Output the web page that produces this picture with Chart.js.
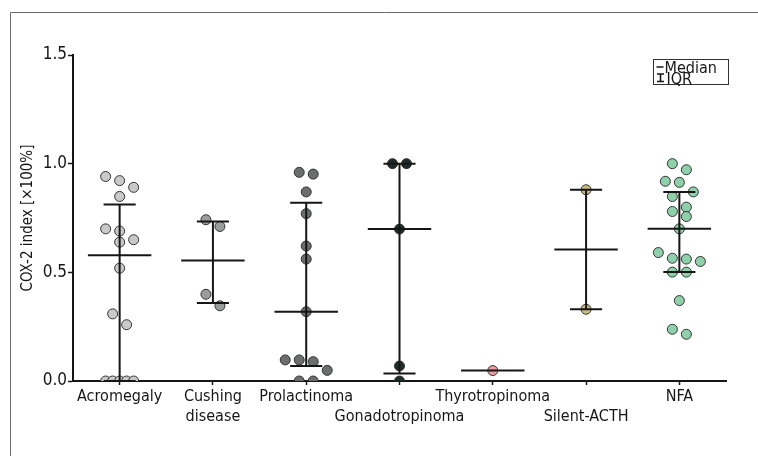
<!DOCTYPE html>
<html><head><meta charset="utf-8">
<script src="https://cdn.jsdelivr.net/npm/chart.js@4.4.1/dist/chart.umd.min.js"></script>
<style>html,body{margin:0;padding:0;background:#fff;}#wrap{width:758px;height:456px;position:relative;}</style>
</head><body><div id="wrap"><canvas id="c" width="758" height="456"></canvas></div>
<script>
// ---- data ----
const categories = ["Acromegaly", ["Cushing", "disease"], "Prolactinoma", ["", "Gonadotropinoma"], "Thyrotropinoma", ["", "Silent-ACTH"], "NFA"];
const acromegaly = [0.941, 0.922, 0.891, 0.849, 0.700, 0.690, 0.650, 0.639, 0.519, 0.309, 0.259, 0, 0, 0, 0, 0];
const cushingDisease = [0.742, 0.711, 0.399, 0.346];
const prolactinoma = [0.960, 0.952, 0.870, 0.770, 0.621, 0.561, 0.319, 0.097, 0.097, 0.089, 0.049, 0, 0];
const gonadotropinoma = [1.0, 1.0, 0.699, 0.069, 0];
const thyrotropinoma = [0.048];
const silentACTH = [0.880, 0.330];
const nfa = [1.0, 0.972, 0.919, 0.914, 0.870, 0.849, 0.800, 0.780, 0.757, 0.700, 0.591, 0.565, 0.561, 0.550, 0.501, 0.501, 0.370, 0.238, 0.215];
const yTicks = [0, 0.5, 1.0, 1.5];
const legendLabels = ["Median", "IQR"];
const yTitle = "COX-2 index [×100%]";

const groups = [acromegaly, cushingDisease, prolactinoma, gonadotropinoma, thyrotropinoma, silentACTH, nfa];
const fills = ["#c9c9c9", "#9b9c9c", "#6c6e6e", "#1f2a2a", "#ec9a9e", "#c9bb7e", "#8ed0a9"];
const FONT = "'Liberation Sans Narrow', 'DejaVu Sans Condensed', 'Roboto Condensed', sans-serif";
const INK = "#161616";

// Prism-style quantile
function quantile(sorted, p) {
  const n = sorted.length;
  const pos = (n + 1) * p;
  if (pos <= 1) return sorted[0];
  if (pos >= n) return sorted[n - 1];
  const lo = Math.floor(pos), f = pos - lo;
  return sorted[lo - 1] + f * (sorted[lo] - sorted[lo - 1]);
}
const stats = groups.map(g => {
  const s = [...g].sort((a, b) => a - b);
  return { med: quantile(s, 0.5), q1: s.length > 1 ? quantile(s, 0.25) : null, q3: s.length > 1 ? quantile(s, 0.75) : null };
});

const whiskerPlugin = {
  id: 'whiskers',
  afterDatasetsDraw(chart) {
    const { ctx, scales: { x, y } } = chart;
    const cat = x.getPixelForValue(1) - x.getPixelForValue(0);
    ctx.save();
    ctx.strokeStyle = INK; ctx.lineWidth = 2; ctx.lineCap = 'butt';
    stats.forEach((st, i) => {
      const xp = x.getPixelForValue(i);
      const mh = 0.34 * cat, ch = 0.172 * cat;
      if (st.q1 !== null) {
        const y1 = y.getPixelForValue(st.q1), y3 = y.getPixelForValue(st.q3);
        ctx.beginPath();
        ctx.moveTo(xp, y1); ctx.lineTo(xp, y3);
        ctx.moveTo(xp - ch, y1); ctx.lineTo(xp + ch, y1);
        ctx.moveTo(xp - ch, y3); ctx.lineTo(xp + ch, y3);
        ctx.stroke();
      }
      const ym = y.getPixelForValue(st.med);
      ctx.beginPath(); ctx.moveTo(xp - mh, ym); ctx.lineTo(xp + mh, ym); ctx.stroke();
    });
    ctx.restore();
  }
};

const framePlugin = {
  id: 'frame',
  beforeDraw(chart) {
    const ctx = chart.ctx;
    ctx.save();
    ctx.strokeStyle = '#6a6a6a'; ctx.lineWidth = 1;
    ctx.beginPath();
    ctx.moveTo(10.5, 456); ctx.lineTo(10.5, 12.5); ctx.lineTo(758, 12.5);
    ctx.stroke();
    ctx.restore();
  },
  afterDraw(chart) {
    const ctx = chart.ctx;
    const ca = chart.chartArea;
    const bx = ca.right - 72.5, by = 59.5, bw = 75, bh = 25;
    ctx.save();
    ctx.strokeStyle = '#333'; ctx.lineWidth = 1;
    ctx.strokeRect(bx, by, bw, bh);
    ctx.strokeStyle = INK; ctx.lineWidth = 1.6;
    ctx.beginPath();
    ctx.moveTo(bx + 3, by + 7.5); ctx.lineTo(bx + 10, by + 7.5);
    ctx.moveTo(bx + 7, by + 14.5); ctx.lineTo(bx + 7, by + 22);
    ctx.moveTo(bx + 3.5, by + 14.5); ctx.lineTo(bx + 10.5, by + 14.5);
    ctx.moveTo(bx + 3.5, by + 22); ctx.lineTo(bx + 10.5, by + 22);
    ctx.stroke();
    ctx.fillStyle = INK;
    ctx.font = "16px " + FONT;
    ctx.textBaseline = 'alphabetic';
    ctx.fillText(legendLabels[0], bx + 11, by + 13);
    ctx.fillText(legendLabels[1], bx + 13, by + 24);
    ctx.restore();
  }
};

const datasets = groups.map((g, i) => ({
  data: g.map(v => ({ x: i, y: v })),
  backgroundColor: fills[i],
  borderColor: '#333333',
  borderWidth: 1,
  pointRadius: 5,
  pointHoverRadius: 5
}));

const chart = new Chart(document.getElementById('c'), {
  type: 'scatter',
  data: { datasets },
  options: {
    animation: false, responsive: false, events: [],
    layout: { padding: { left: 0, right: 32, top: 55, bottom: 0 } },
    plugins: { legend: { display: false }, tooltip: { enabled: false } },
    scales: {
      x: {
        type: 'linear', min: -0.5, max: 6.5,
        afterBuildTicks: s => { s.ticks = categories.map((c, i) => ({ value: i })); },
        ticks: { callback: v => categories[v], color: INK, font: { family: FONT, size: 16, lineHeight: 1.3 }, padding: 1, maxRotation: 0, autoSkip: false },
        grid: { drawOnChartArea: false, tickLength: 4, color: INK, tickWidth: 1.5 },
        border: { color: INK, width: 2 },
        afterFit: s => { s.height = 75; }
      },
      y: {
        min: 0, max: 1.5,
        afterBuildTicks: s => { s.ticks = yTicks.map(v => ({ value: v })); },
        ticks: { callback: v => v.toFixed(1), color: INK, font: { family: FONT, size: 17 }, padding: 1 },
        grid: { drawOnChartArea: false, tickLength: 5, color: INK, tickWidth: 1.5 },
        border: { color: INK, width: 2 },
        title: { display: true, text: yTitle, color: INK, font: { family: FONT, size: 15 }, padding: { top: 19, bottom: 0 } },
        afterFit: s => { s.width = 73; }
      }
    }
  },
  plugins: [framePlugin, whiskerPlugin]
});

// beeswarm-like horizontal spread computed through the scales
(function jitter() {
  const x = chart.scales.x, y = chart.scales.y;
  const cat = x.getPixelForValue(1) - x.getPixelForValue(0);
  const pv = y.getPixelForValue(0) - y.getPixelForValue(1);
  const thr = 13 / pv;
  groups.forEach((g, i) => {
    const order = g.map((v, k) => k).sort((a, b) => g[b] - g[a]);
    const offs = new Array(g.length).fill(0);
    let row = [];
    const flush = () => {
      const n = row.length;
      const sp = n > 1 ? (n <= 4 ? 14 : 28 / (n - 1)) : 0;
      row.forEach((k, j) => { offs[k] = (j - (n - 1) / 2) * sp; });
      row = [];
    };
    order.forEach(k => {
      if (row.length && g[row[0]] - g[k] > thr) flush();
      row.push(k);
    });
    flush();
    chart.data.datasets[i].data = g.map((v, k) => ({ x: i + offs[k] / cat, y: v }));
  });
  chart.update('none');
})();
</script></body></html>
